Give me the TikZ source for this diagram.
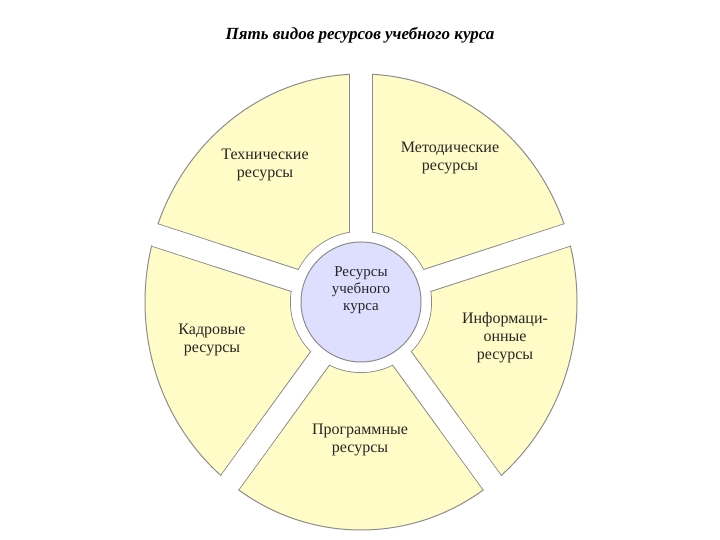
\documentclass[tikz,border=0pt]{standalone}
\usepackage{fontspec}
\usetikzlibrary{calc}
\setmainfont{Liberation Serif}
\begin{document}
\begin{tikzpicture}[x=1pt,y=1pt,
  lbl/.style={font=\fontsize{16}{18}\selectfont, align=center, text=black!85},
  edge/.style={draw=black!45, line width=1pt}]
\useasboundingbox (0,0) rectangle (720,540);
\coordinate (c) at (361,238);
\fill[fill=yellow!22!white] (c) ellipse [x radius=216, y radius=228];
\begin{scope}
\clip (c) ellipse [x radius=216, y radius=228];
\fill[black!45] (c) circle (71);
\fill[white] (c) circle (70);
\foreach \a in {90,162,234,306,18}{
  \draw[black!45, line width=24pt] ($(c)+(\a:60)$) -- ++(\a:300);
  \draw[white, line width=22pt] ($(c)+(\a:60)$) -- ++(\a:300);
}
\fill[white] (c) circle (70);
\end{scope}
\draw[edge] (c) ellipse [x radius=216, y radius=228];
\foreach \a in {90,162,234,306,18}{
  \fill[white] ($(c)+(\a:150)+(\a+90:11)$) -- ++(\a:100) -- ++(\a-90:22) -- ++(\a+180:100) -- cycle;
}
\node[circle, minimum size=120pt, draw=black!45, line width=1pt, fill=blue!13!white] (center) at (c) {};
\node[lbl, font=\fontsize{15}{17}\selectfont] (ct) at (361,250) {Ресурсы\\учебного\\курса};
\node[lbl] (t) at (265,375) {Технические\\ресурсы};
\node[lbl] (m) at (450,382) {Методические\\ресурсы};
\node[lbl] (k) at (212,200) {Кадровые\\ресурсы};
\node[lbl] (i) at (505,202) {Информаци-\\онные\\ресурсы};
\node[lbl] (p) at (360,100) {Программные\\ресурсы};
\node[font=\fontsize{17}{19}\selectfont\bfseries\itshape] (title) at (360,505) {Пять видов ресурсов учебного курса};
\end{tikzpicture}
\end{document}
